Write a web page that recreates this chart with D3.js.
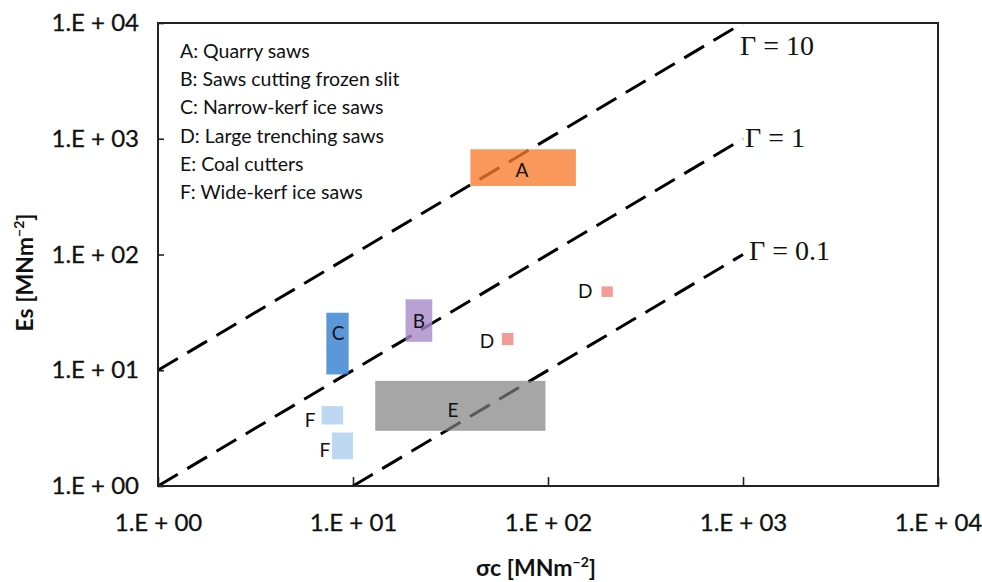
<!DOCTYPE html>
<html>
<head>
<meta charset="utf-8">
<script src="https://cdn.jsdelivr.net/npm/d3@7"></script>
<style>
  html, body { margin: 0; padding: 0; background: #fff; }
  svg { display: block; }
</style>
</head>
<body>
<svg id="chart" width="982" height="582"></svg>
<script>
// ---------------- data ----------------
const categories = ["A", "B", "C", "D", "D", "E", "F", "F"];
const sigmaMin   = [40,   18.6, 7.3,  188, 58,   13,  6.9, 7.8];
const sigmaMax   = [139,  25.5, 9.5,  215, 66.5, 97,  8.9, 10];
const esMin      = [391,  17.6, 9.2,  43,  16.5, 3.0, 3.4, 1.7];
const esMax      = [811,  41,   31.4, 53,  21,   8.1, 4.9, 2.9];
const labelSigma = [73.6, 21.8, 8.38, 155, 48.7, 32.6, 6.02, 7.18];
const labelEs    = [537,  26.6, 21.0, 48.4, 17.9, 4.54, 3.72, 2.05];
const fillColors = ["#F97A2B", "#A889C8", "#3D86D0", "#EE8A8A", "#EE8A8A", "#808080", "#A9CBEE", "#A9CBEE"];
const fillOpacity = [0.78, 0.8, 0.85, 0.85, 0.85, 0.7, 0.75, 0.75];

const gammaValues = [10, 1, 0.1];
const gammaLabels = ["Γ = 10", "Γ = 1", "Γ = 0.1"];
const gammaSigmaStart = [1, 1, 10];
const gammaSigmaEnd = [1000, 1000, 1000];

const legendItems = [
  "A: Quarry saws",
  "B: Saws cutting frozen slit",
  "C: Narrow-kerf ice saws",
  "D: Large trenching saws",
  "E: Coal cutters",
  "F: Wide-kerf ice saws"
];

const xTicks = [1, 10, 100, 1000, 10000];
const xTickLabels = ["1.E + 00", "1.E + 01", "1.E + 02", "1.E + 03", "1.E + 04"];
const yTicks = [1, 10, 100, 1000, 10000];
const yTickLabels = ["1.E + 00", "1.E + 01", "1.E + 02", "1.E + 03", "1.E + 04"];

// ---------------- layout ----------------
const W = 982, H = 582;
const margin = { top: 23, right: 44, bottom: 96, left: 158 };
const iw = W - margin.left - margin.right;
const ih = H - margin.top - margin.bottom;

const svg = d3.select("#chart");
const g = svg.append("g").attr("transform", `translate(${margin.left},${margin.top})`);

const x = d3.scaleLog().domain([1, 10000]).range([0, iw]);
const y = d3.scaleLog().domain([1, 10000]).range([ih, 0]);

const sansFont = "Lato, 'Open Sans', sans-serif";

// axes
const xAxis = d3.axisBottom(x).tickValues(xTicks)
  .tickFormat((d, i) => xTickLabels[i]).tickSize(-9).tickPadding(28);
const yAxis = d3.axisLeft(y).tickValues(yTicks)
  .tickFormat((d, i) => yTickLabels[i]).tickSize(-6).tickPadding(19);

const gx = g.append("g").attr("transform", `translate(0,${ih})`).call(xAxis);
const gy = g.append("g").call(yAxis);
[gx, gy].forEach(a => {
  a.select(".domain").remove();
  a.selectAll(".tick line").attr("stroke", "#222").attr("stroke-width", 1.6);
  a.selectAll(".tick text").attr("font-family", sansFont).attr("font-size", 24).attr("fill", "#111")
    .attr("stroke", "#111").attr("stroke-width", 0.3);
});

// gamma lines
const line = d3.line().x(d => x(d[0])).y(d => y(d[1]));
gammaValues.forEach((gm, i) => {
  const pts = [[gammaSigmaStart[i], gm * gammaSigmaStart[i]], [gammaSigmaEnd[i], gm * gammaSigmaEnd[i]]];
  g.append("path").attr("d", line(pts))
    .attr("fill", "none").attr("stroke", "#000").attr("stroke-width", 3)
    .attr("stroke-dasharray", "23,11");
});

// gamma labels
const gammaDx = [-3, 2, 6];
const gammaDy = [32, 8, 5];
gammaValues.forEach((gm, i) => {
  g.append("text")
    .attr("x", x(gammaSigmaEnd[i]) + gammaDx[i])
    .attr("y", y(gm * gammaSigmaEnd[i]) + gammaDy[i])
    .attr("font-family", "'Liberation Serif', 'Times New Roman', serif")
    .attr("font-size", 28).attr("fill", "#111")
    .text(gammaLabels[i]);
});

// rectangles
categories.forEach((c, i) => {
  g.append("rect")
    .attr("x", x(sigmaMin[i]))
    .attr("y", y(esMax[i]))
    .attr("width", x(sigmaMax[i]) - x(sigmaMin[i]))
    .attr("height", y(esMin[i]) - y(esMax[i]))
    .attr("fill", fillColors[i]).attr("fill-opacity", fillOpacity[i]);
});

// rect labels
categories.forEach((c, i) => {
  g.append("text")
    .attr("x", x(labelSigma[i]))
    .attr("y", y(labelEs[i]))
    .attr("dy", "0.36em")
    .attr("text-anchor", "middle")
    .attr("font-family", sansFont).attr("font-size", 19).attr("fill", "#111")
    .text(c);
});

// frame
g.append("rect").attr("x", 0).attr("y", 0).attr("width", iw).attr("height", ih)
  .attr("fill", "none").attr("stroke", "#222").attr("stroke-width", 2);

// legend
const legend = g.append("g").attr("transform", "translate(22,35)");
legendItems.forEach((t, i) => {
  legend.append("text").attr("x", 0).attr("y", i * 28.2)
    .attr("font-family", sansFont).attr("font-size", 19.5).attr("fill", "#111")
    .text(t);
});

// axis titles
svg.append("text")
  .attr("x", margin.left + iw / 2 - 12).attr("y", 576)
  .attr("text-anchor", "middle")
  .attr("font-family", sansFont).attr("font-weight", "bold").attr("font-size", 23).attr("fill", "#111")
  .html('σc [MNm<tspan dy="-9" font-size="14">−2</tspan><tspan dy="9">]</tspan>');

svg.append("text")
  .attr("transform", `translate(33,${margin.top + ih / 2 + 18}) rotate(-90)`)
  .attr("text-anchor", "middle")
  .attr("font-family", sansFont).attr("font-weight", "bold").attr("font-size", 23).attr("fill", "#111")
  .html('Es [MNm<tspan dy="-9" font-size="14">−2</tspan><tspan dy="9">]</tspan>');
</script>
</body>
</html>
